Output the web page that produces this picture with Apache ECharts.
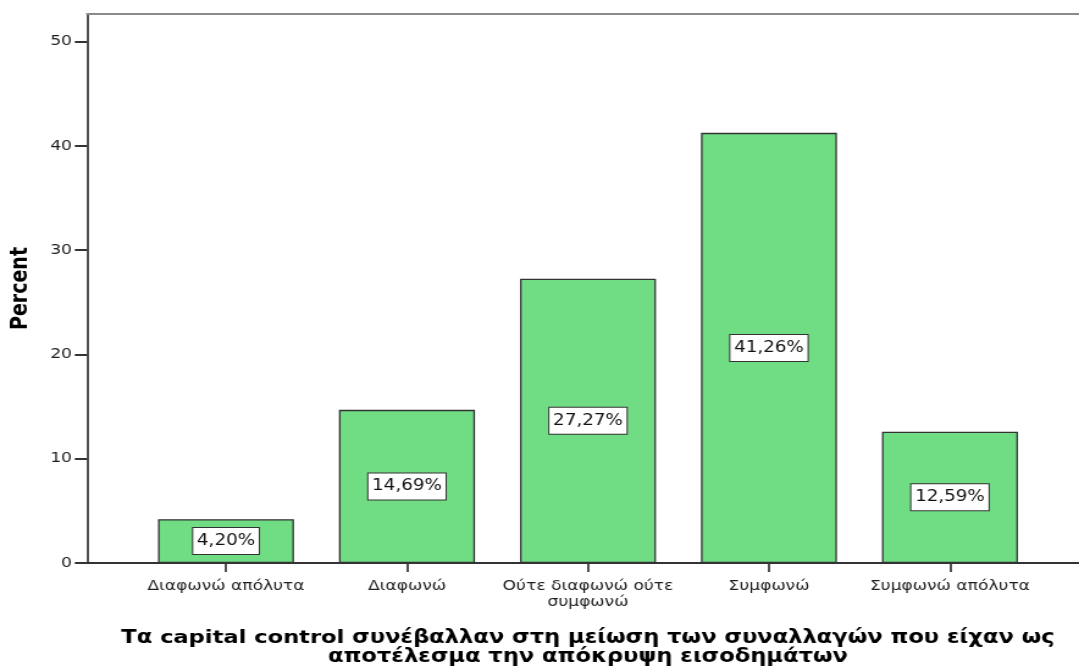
<!DOCTYPE html>
<html>
<head>
<meta charset="utf-8">
<script src="https://cdn.jsdelivr.net/npm/echarts@6/dist/echarts.min.js"></script>
<style>
  html, body { margin: 0; padding: 0; background: #fff; overflow: hidden; }
  #wrap { width: 1079px; height: 668px; overflow: hidden; }
  /* laid out narrower, then widened horizontally for the broad lettering */
  #chart { width: 884px; height: 668px; transform: scaleX(1.2206); transform-origin: 0 0; }
</style>
</head>
<body>
<div id="wrap"><div id="chart"></div></div>
<script>
// Survey responses (percent of respondents)
const categories = ['Διαφωνώ απόλυτα', 'Διαφωνώ', 'Ούτε διαφωνώ ούτε\nσυμφωνώ', 'Συμφωνώ', 'Συμφωνώ απόλυτα'];
const percents = [4.20, 14.69, 27.27, 41.26, 12.59];
const yTicks = [0, 10, 20, 30, 40, 50];
const yMax = 52.66;
const xTitle = 'Τα capital control συνέβαλλαν στη μείωση των συναλλαγών που είχαν ως\nαποτέλεσμα την απόκρυψη εισοδημάτων';
const yTitle = 'Percent';

const FONT = 'DejaVu Sans';
const INK = '#1e1e1e';
const AXIS = '#333';

const chart = echarts.init(document.getElementById('chart'));
chart.setOption({
  animation: false,
  backgroundColor: '#fff',
  grid: [
    // frame: y axis, baseline and top border
    { left: 71.3, right: 0, top: 14, bottom: 105, outerBoundsMode: 'none' },
    // bars
    { left: 111.0, width: 741.4, top: 14, bottom: 105, outerBoundsMode: 'none' }
  ],
  xAxis: [
    {
      type: 'value', gridIndex: 0, min: 0, max: 1, position: 'bottom',
      axisLine: { show: true, lineStyle: { color: AXIS, width: 2 } },
      axisTick: { show: false }, axisLabel: { show: false }, splitLine: { show: false }
    },
    {
      type: 'value', gridIndex: 0, min: 0, max: 1, position: 'top',
      axisLine: { show: true, lineStyle: { color: '#8a8a8a', width: 2 } },
      axisTick: { show: false }, axisLabel: { show: false }, splitLine: { show: false }
    },
    {
      type: 'category', gridIndex: 1, data: categories,
      axisLine: { show: false },
      axisTick: { show: true, alignWithLabel: true, length: 9, lineStyle: { color: AXIS, width: 1.7 } },
      axisLabel: {
        color: INK, fontFamily: FONT, fontSize: 14, margin: 15, lineHeight: 16, interval: 0
      },
      name: xTitle,
      nameLocation: 'middle',
      nameGap: 66,
      nameTextStyle: { color: '#000', fontFamily: FONT, fontSize: 18.5, fontWeight: 'bold', lineHeight: 19 }
    }
  ],
  yAxis: [
    {
      type: 'value', gridIndex: 0, min: 0, max: yMax, interval: 10,
      axisLine: { show: true, lineStyle: { color: AXIS, width: 1.7 } },
      axisTick: { show: true, length: 10, customValues: yTicks, lineStyle: { color: AXIS, width: 2 } },
      axisLabel: { color: INK, fontFamily: FONT, fontSize: 14, margin: 12.3, customValues: yTicks },
      splitLine: { show: false },
      name: yTitle,
      nameLocation: 'middle',
      nameRotate: 90,
      nameGap: 45,
      nameTextStyle: { color: '#000', fontFamily: FONT, fontSize: 19, fontWeight: 'bold' }
    },
    {
      type: 'value', gridIndex: 1, min: 0, max: yMax, show: false
    }
  ],
  series: [{
    type: 'bar',
    xAxisIndex: 2, yAxisIndex: 1,
    data: percents,
    barWidth: 111.4,
    itemStyle: { color: '#70dc84', borderColor: '#333', borderWidth: 1.3 },
    label: {
      show: true,
      position: 'inside',
      formatter: p => p.value.toFixed(2).replace('.', ',') + '%',
      color: '#111', fontFamily: FONT, fontSize: 15, lineHeight: 17,
      backgroundColor: '#fff', borderColor: '#333', borderWidth: 1,
      padding: [5, 3, 4, 3]
    }
  }]
});
</script>
</body>
</html>
